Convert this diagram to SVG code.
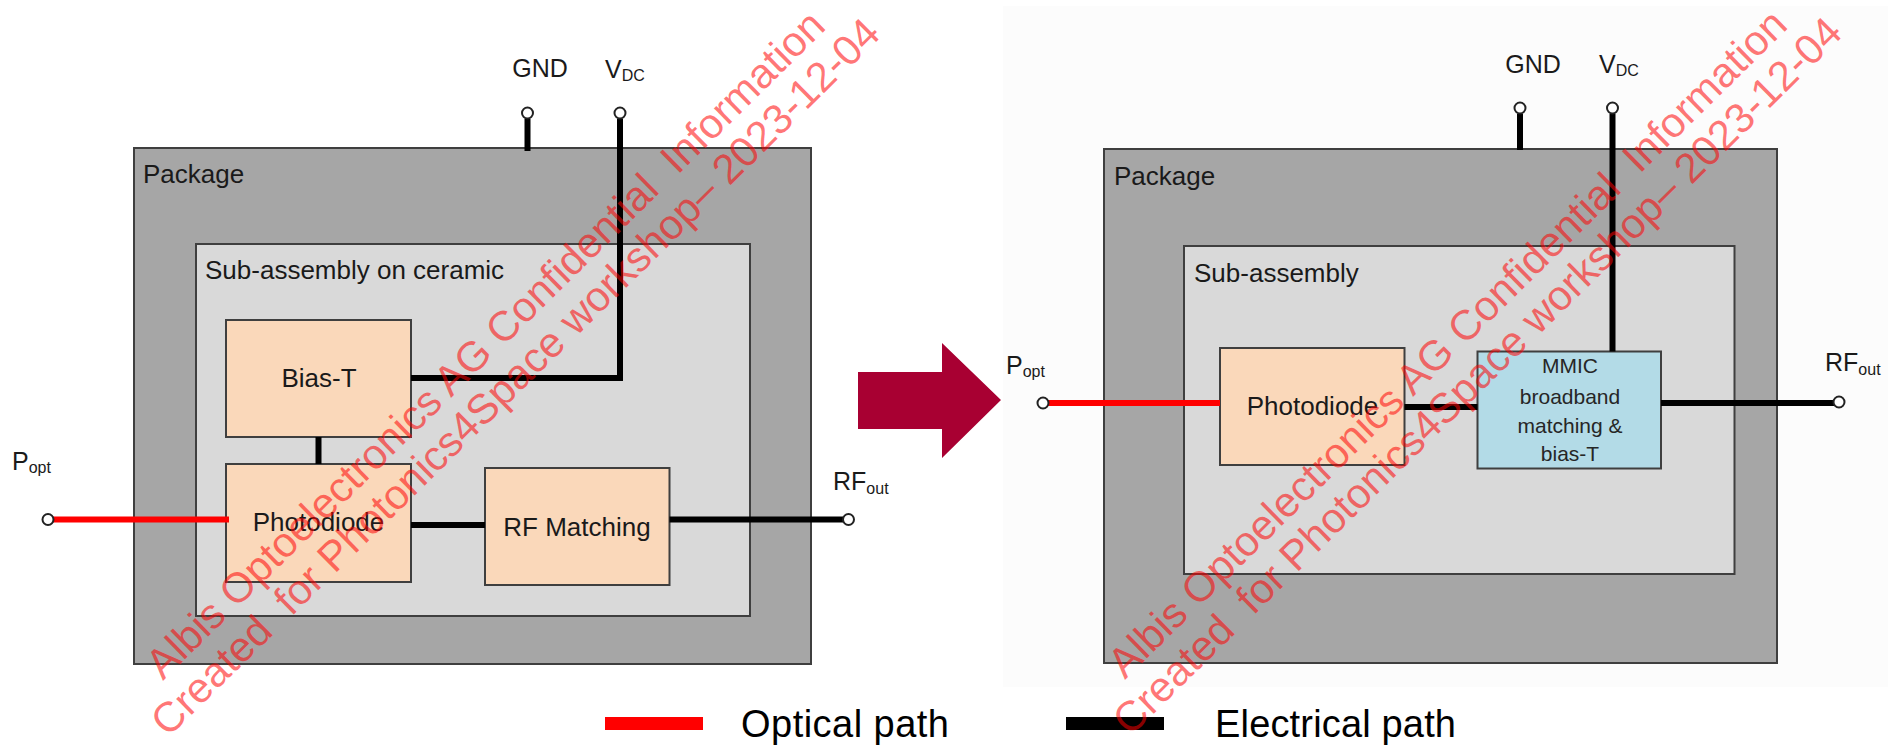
<svg xmlns="http://www.w3.org/2000/svg" width="1888" height="748" viewBox="0 0 1888 748">
<style>
.pkg{fill:#a6a6a6;stroke:#3f3f3f;stroke-width:2}
.sub{fill:#d9d9d9;stroke:#3f3f3f;stroke-width:2}
.blk{fill:#fad8ba;stroke:#3f3f3f;stroke-width:2}
.mmic{fill:#b3dbe7;stroke:#3f3f3f;stroke-width:2}
.t{font-family:"Liberation Sans",Arial,sans-serif;fill:#1a1a1a;font-size:25px}
.b{font-size:26px}
.tc{text-anchor:middle}
.sb{font-size:16px}
.mm{font-family:"Liberation Sans",Arial,sans-serif;fill:#262626;font-size:21px;text-anchor:middle}
.el{stroke:#000;stroke-width:6;fill:none;stroke-linecap:butt}
.op{stroke:#ff0000;stroke-width:6;fill:none}
.pin{fill:#fff;stroke:#222;stroke-width:2}
.leg{font-family:"Liberation Sans",Arial,sans-serif;fill:#000;font-size:38px}
.wm{font-family:"Liberation Sans",Arial,sans-serif;font-size:42px;fill:#ff0000;fill-opacity:0.55}
</style>

<rect x="0" y="0" width="1888" height="748" fill="#ffffff"/>
<rect x="1003" y="6" width="885" height="681" fill="#fcfcfc"/>

<!-- LEFT DIAGRAM -->
<g id="left-package">
  <rect class="pkg" x="134" y="148" width="677" height="516"/>
  <text class="t b" x="143" y="183">Package</text>
</g>
<g id="left-subassembly">
  <rect class="sub" x="196" y="244" width="554" height="372"/>
  <text class="t b" x="205" y="279">Sub-assembly on ceramic</text>
</g>
<g id="left-biast">
  <rect class="blk" x="226" y="320" width="185" height="117"/>
  <text class="t b tc" x="319" y="387">Bias-T</text>
</g>
<g id="left-photodiode">
  <rect class="blk" x="226" y="464" width="185" height="118"/>
  <text class="t b tc" x="318.5" y="531">Photodiode</text>
</g>
<g id="left-rfmatching">
  <rect class="blk" x="485" y="468" width="184.5" height="117"/>
  <text class="t b tc" x="577" y="536">RF Matching</text>
</g>
<g id="left-labels">
  <text class="t tc" x="540" y="77">GND</text>
  <text class="t" x="605" y="78">V<tspan class="sb" dy="3">DC</tspan></text>
  <text class="t" x="12" y="470">P<tspan class="sb" dy="3">opt</tspan></text>
  <text class="t" x="833" y="490">RF<tspan class="sb" dy="4">out</tspan></text>
</g>
<g id="left-connectors">
  <path class="op" d="M53 519.5 H229"/>
  <path class="el" d="M527.5 119 V151"/>
  <path class="el" d="M620 119 V378 H411"/>
  <path class="el" d="M318.5 437 V464"/>
  <path class="el" d="M411 525 H485"/>
  <path class="el" d="M669.5 519.5 H843"/>
  <circle class="pin" cx="527.5" cy="113" r="5.5"/>
  <circle class="pin" cx="620" cy="113" r="5.5"/>
  <circle class="pin" cx="48" cy="519.5" r="5.5"/>
  <circle class="pin" cx="848.5" cy="519.5" r="5.5"/>
</g>

<!-- ARROW -->
<g id="arrow">
  <polygon points="858,372 942,372 942,343 1001,400 942,458 942,429 858,429" fill="#a80032"/>
</g>

<!-- RIGHT DIAGRAM -->
<g id="right-package">
  <rect class="pkg" x="1104" y="149" width="673" height="514"/>
  <text class="t b" x="1114" y="185">Package</text>
</g>
<g id="right-subassembly">
  <rect class="sub" x="1184" y="246" width="550.5" height="328"/>
  <text class="t b" x="1194" y="282">Sub-assembly</text>
</g>
<g id="right-photodiode">
  <rect class="blk" x="1220" y="348" width="184.5" height="117"/>
  <text class="t b tc" x="1312.5" y="415">Photodiode</text>
</g>
<g id="right-mmic">
  <rect class="mmic" x="1477.5" y="351.5" width="183.5" height="117"/>
  <text class="mm" x="1570" y="373">MMIC</text>
  <text class="mm" x="1570" y="404">broadband</text>
  <text class="mm" x="1570" y="433">matching &amp;</text>
  <text class="mm" x="1570" y="461">bias-T</text>
</g>
<g id="right-labels">
  <text class="t tc" x="1533" y="73">GND</text>
  <text class="t" x="1599" y="73">V<tspan class="sb" dy="3">DC</tspan></text>
  <text class="t" x="1006" y="374">P<tspan class="sb" dy="3">opt</tspan></text>
  <text class="t" x="1825" y="371">RF<tspan class="sb" dy="4">out</tspan></text>
</g>
<g id="right-connectors">
  <path class="op" d="M1048 403 H1220"/>
  <path class="el" d="M1520 114 V150"/>
  <path class="el" d="M1612.5 114 V351.5"/>
  <path class="el" d="M1404.5 407 H1477.5"/>
  <path class="el" d="M1661 403 H1834"/>
  <circle class="pin" cx="1520" cy="108" r="5.5"/>
  <circle class="pin" cx="1612.5" cy="108" r="5.5"/>
  <circle class="pin" cx="1043" cy="403" r="5.5"/>
  <circle class="pin" cx="1839" cy="402" r="5.5"/>
</g>

<!-- LEGEND -->
<g id="legend">
  <rect x="605" y="717" width="98" height="13" fill="#ff0000"/>
  <text class="leg" x="741" y="737" textLength="208" lengthAdjust="spacing">Optical path</text>
  <rect x="1066" y="717" width="98" height="13" fill="#000000"/>
  <text class="leg" x="1215" y="737" textLength="241" lengthAdjust="spacing">Electrical path</text>
</g>

<!-- WATERMARKS -->
<g id="watermark-left">
  <text class="wm" xml:space="preserve" transform="translate(163 681) rotate(-44.5)">Albis Optoelectronics AG Confidential  Information</text>
  <text class="wm" xml:space="preserve" transform="translate(168 738) rotate(-44.5)">Created  for Photonics4Space workshop– 2023-12-04</text>
</g>
<g id="watermark-right">
  <text class="wm" xml:space="preserve" transform="translate(1125 680) rotate(-44.5)">Albis Optoelectronics AG Confidential  Information</text>
  <text class="wm" xml:space="preserve" transform="translate(1130 737) rotate(-44.5)">Created  for Photonics4Space workshop– 2023-12-04</text>
</g>
</svg>
